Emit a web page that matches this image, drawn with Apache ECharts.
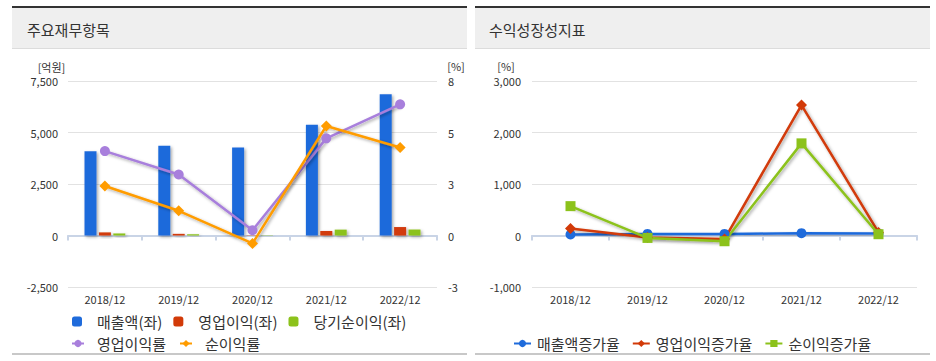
<!DOCTYPE html>
<html><head><meta charset="utf-8">
<script src="https://cdn.jsdelivr.net/npm/echarts@6/dist/echarts.min.js"></script>
<style>html,body{margin:0;padding:0;background:#fff;}#c{width:936px;height:361px;}</style>
</head><body><div id="c"></div>
<script>
const categories = ['2018/12','2019/12','2020/12','2021/12','2022/12'];
const sales = [4090, 4360, 4270, 5380, 6860];
const opIncome = [150, 80, 15, 220, 410];
const netIncome = [100, 60, -15, 285, 290];
const opMargin = [4.37, 3.16, 0.27, 5.03, 6.79];
const netMargin = [2.56, 1.28, -0.41, 5.67, 4.56];
const salesGrowth = [19, 31, 30, 45, 39];
const opGrowth = [136, -40, -70, 2533, 60];
const netGrowth = [570, -47, -111, 1789, 25];
const leftTicks = {min: -2500, max: 7500, interval: 2500};
const rightTicks = {min: -8/3, max: 8, interval: 8/3};
const growthTicks = {min: -1000, max: 3000, interval: 1000};

const FONT = "'Noto Sans CJK KR','Noto Sans',sans-serif";
const C = {blue:'#1f6bdb', red:'#d23a08', green:'#8cc21b', purple:'#a87fdc', orange:'#ff9c00'};
const shadow = {shadowColor:'rgba(0,0,0,0.35)', shadowBlur:3, shadowOffsetX:1.5, shadowOffsetY:1.5};

const chart = echarts.init(document.getElementById('c'), null, {renderer:'svg'});
const axisLabel = {color:'#333', fontSize:11, fontFamily:FONT};
const xAxisCommon = {
  type:'category', data:categories, boundaryGap:true,
  axisLine:{lineStyle:{color:'#c9d4e6', width:2}},
  axisTick:{show:true, length:5, lineStyle:{color:'#c9d4e6', width:2}},
  axisLabel:Object.assign({margin:6}, axisLabel)
};
const splitLine = {show:true, lineStyle:{color:'#e2e2e2', width:1}};

chart.setOption({
  animation:false,
  textStyle:{fontFamily:FONT},
  graphic:[
    {type:'rect', shape:{x:12,y:6,width:455,height:2}, style:{fill:'#333'}},
    {type:'rect', shape:{x:12,y:8,width:455,height:40}, style:{fill:'#efefef'}},
    {type:'rect', shape:{x:12,y:48,width:455,height:1}, style:{fill:'#dcdcdc'}},
    {type:'rect', shape:{x:12,y:353,width:455,height:2}, style:{fill:'#c8c8c8'}},
    {type:'text', x:27, y:29, style:{text:'주요재무항목', font:"15px "+FONT, fill:'#333', textVerticalAlign:'middle'}},
    {type:'rect', shape:{x:475,y:6,width:455,height:2}, style:{fill:'#333'}},
    {type:'rect', shape:{x:475,y:8,width:455,height:40}, style:{fill:'#efefef'}},
    {type:'rect', shape:{x:475,y:48,width:455,height:1}, style:{fill:'#dcdcdc'}},
    {type:'rect', shape:{x:475,y:353,width:455,height:2}, style:{fill:'#c8c8c8'}},
    {type:'text', x:489, y:29, style:{text:'수익성장성지표', font:"15px "+FONT, fill:'#333', textVerticalAlign:'middle'}},
    {type:'text', x:51.5, y:67, style:{text:'[억원]', font:"11px "+FONT, fill:'#333', textAlign:'center', textVerticalAlign:'middle'}},
    {type:'text', x:456, y:65.5, style:{text:'[%]', font:"11px "+FONT, fill:'#333', textAlign:'center', textVerticalAlign:'middle'}},
    {type:'text', x:506, y:65.5, style:{text:'[%]', font:"11px "+FONT, fill:'#333', textAlign:'center', textVerticalAlign:'middle'}}
  ],
  grid:[
    {left:68, top:81, width:369, height:206},
    {left:532, top:81, width:385, height:206}
  ],
  xAxis:[
    Object.assign({gridIndex:0}, xAxisCommon),
    Object.assign({gridIndex:1}, xAxisCommon)
  ],
  yAxis:[
    {type:'value', gridIndex:0, position:'left', min:leftTicks.min, max:leftTicks.max, interval:leftTicks.interval,
     axisLine:{show:false}, axisTick:{show:false}, splitLine:splitLine, axisLabel:Object.assign({margin:10}, axisLabel)},
    {type:'value', gridIndex:0, position:'right', min:rightTicks.min, max:rightTicks.max, interval:rightTicks.interval,
     axisLine:{show:false}, axisTick:{show:false}, splitLine:{show:false},
     axisLabel:Object.assign({margin:11, formatter:v=>String(Math.round(v)+0)}, axisLabel)},
    {type:'value', gridIndex:1, position:'left', min:growthTicks.min, max:growthTicks.max, interval:growthTicks.interval,
     axisLine:{show:false}, axisTick:{show:false}, splitLine:splitLine, axisLabel:Object.assign({margin:11}, axisLabel)}
  ],
  legend:[
    {left:67, top:309, itemWidth:10, itemHeight:10, itemGap:11, icon:'roundRect',
     textStyle:{fontSize:15, color:'#333', fontFamily:FONT, padding:[0,0,0,10]},
     data:['매출액(좌)','영업이익(좌)','당기순이익(좌)']},
    {left:66, top:331, itemWidth:12, itemHeight:9, itemGap:13,
     textStyle:{fontSize:15, color:'#333', fontFamily:FONT, padding:[0,0,0,8]},
     data:['영업이익률','순이익률']},
    {left:508, top:331, itemWidth:17, itemHeight:9, itemGap:12,
     textStyle:{fontSize:15, color:'#333', fontFamily:FONT, padding:[0,0,0,1]},
     data:['매출액증가율','영업이익증가율','순이익증가율']}
  ],
  series:[
    {name:'매출액(좌)', type:'bar', xAxisIndex:0, yAxisIndex:0, data:sales, barWidth:12, barGap:'20%',
     itemStyle:Object.assign({color:C.blue}, shadow)},
    {name:'영업이익(좌)', type:'bar', xAxisIndex:0, yAxisIndex:0, data:opIncome, barWidth:12, barGap:'20%',
     itemStyle:Object.assign({color:C.red}, shadow)},
    {name:'당기순이익(좌)', type:'bar', xAxisIndex:0, yAxisIndex:0, data:netIncome, barWidth:12, barGap:'20%',
     itemStyle:Object.assign({color:C.green}, shadow)},
    {name:'영업이익률', type:'line', xAxisIndex:0, yAxisIndex:1, data:opMargin, symbol:'circle', symbolSize:10,
     lineStyle:Object.assign({color:C.purple, width:2.5}, shadow), itemStyle:{color:C.purple}},
    {name:'순이익률', type:'line', xAxisIndex:0, yAxisIndex:1, data:netMargin, symbol:'diamond', symbolSize:11,
     lineStyle:Object.assign({color:C.orange, width:2.5}, shadow), itemStyle:{color:C.orange}},
    {name:'매출액증가율', type:'line', xAxisIndex:1, yAxisIndex:2, data:salesGrowth, symbol:'circle', symbolSize:10,
     lineStyle:Object.assign({color:C.blue, width:2.5}, shadow), itemStyle:{color:C.blue}},
    {name:'영업이익증가율', type:'line', xAxisIndex:1, yAxisIndex:2, data:opGrowth, symbol:'diamond', symbolSize:11,
     lineStyle:Object.assign({color:C.red, width:2.5}, shadow), itemStyle:{color:C.red}},
    {name:'순이익증가율', type:'line', xAxisIndex:1, yAxisIndex:2, data:netGrowth, symbol:'rect', symbolSize:10,
     lineStyle:Object.assign({color:C.green, width:2.5}, shadow), itemStyle:{color:C.green}}
  ]
});
</script></body></html>
